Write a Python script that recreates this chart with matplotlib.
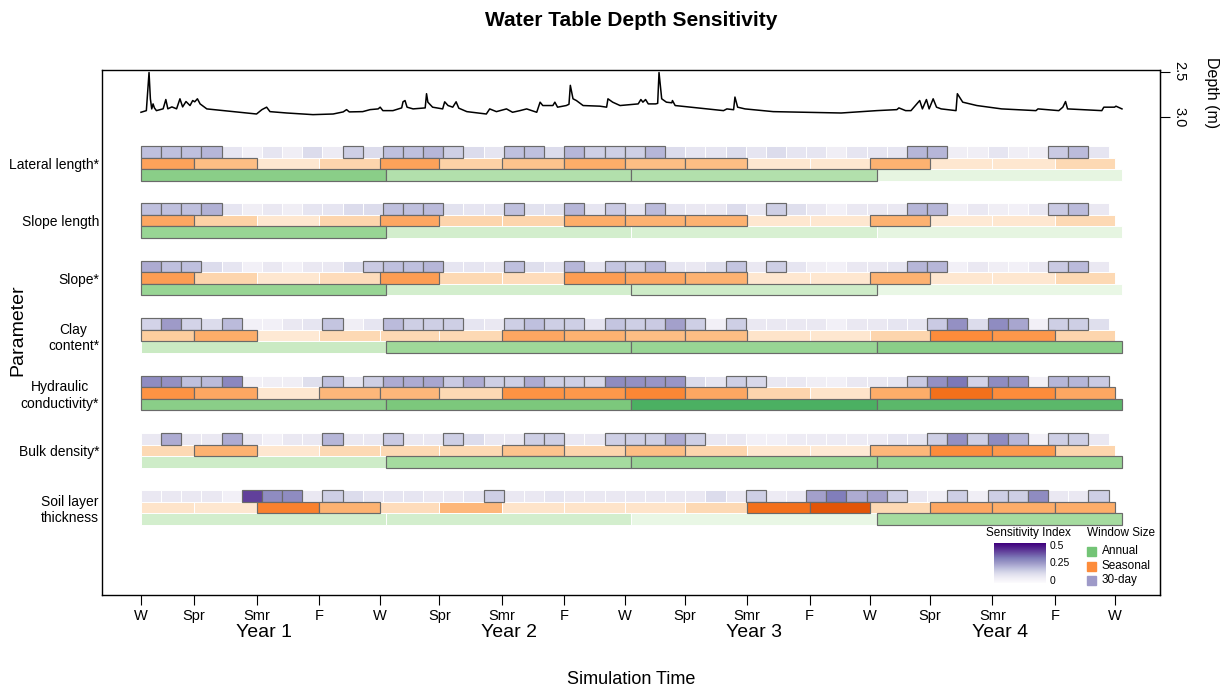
import matplotlib.pyplot as plt
import numpy as np
from matplotlib.colors import Normalize
from matplotlib.patches import Rectangle

plt.rcParams['font.family'] = ['Liberation Sans', 'DejaVu Sans']

# ---- data ----
params = ['Lateral length*', 'Slope length', 'Slope*', 'Clay\ncontent*',
          'Hydraulic\nconductivity*', 'Bulk density*', 'Soil layer\nthickness']

season_days = [0, 79, 172, 265, 355, 444, 537, 630, 720, 809, 902, 995,
               1085, 1174, 1267, 1360, 1450]
season_labels = ['W', 'Spr', 'Smr', 'F'] * 4 + ['W']
year_days = [0, 365, 730, 1095, 1460]
year_labels = ['Year 1', 'Year 2', 'Year 3', 'Year 4']
n_30day = 48

# sensitivity index, 30-day windows (48 per parameter)
si_30day = [
    [.18, .18, .18, .20, .09, .05, .09, .06, .12, .07, .15, .12, .18, .18, .20, .15,
     .12, .09, .18, .18, .12, .20, .15, .15, .15, .20, .12, .09, .09, .12, .09, .12,
     .09, .09, .06, .09, .09, .09, .20, .20, .06, .06, .09, .06, .06, .16, .19, .09],
    [.18, .18, .18, .21, .09, .06, .08, .06, .09, .09, .12, .12, .18, .18, .19, .10,
     .09, .09, .18, .10, .10, .20, .09, .16, .09, .19, .09, .08, .08, .12, .08, .15,
     .11, .08, .05, .08, .08, .08, .20, .20, .05, .08, .06, .05, .08, .16, .19, .08],
    [.22, .18, .18, .12, .09, .05, .08, .05, .08, .08, .12, .16, .18, .18, .20, .09,
     .09, .08, .18, .11, .09, .20, .09, .17, .15, .19, .09, .08, .11, .17, .08, .15,
     .09, .06, .05, .08, .08, .09, .20, .20, .05, .08, .06, .05, .08, .16, .19, .08],
    [.14, .25, .14, .12, .19, .05, .05, .08, .09, .17, .06, .09, .19, .15, .15, .15,
     .09, .08, .15, .18, .15, .15, .09, .17, .15, .16, .24, .15, .05, .15, .08, .08,
     .08, .08, .05, .08, .08, .09, .09, .16, .27, .12, .28, .23, .05, .15, .15, .11],
    [.28, .27, .18, .19, .29, .05, .06, .06, .11, .18, .09, .15, .22, .22, .23, .16,
     .22, .15, .15, .22, .15, .15, .13, .28, .27, .26, .26, .12, .09, .15, .13, .08,
     .08, .06, .05, .08, .08, .09, .16, .27, .32, .14, .28, .26, .05, .20, .20, .16],
    [.08, .22, .08, .08, .22, .08, .05, .08, .08, .20, .08, .08, .16, .08, .08, .15,
     .12, .08, .08, .15, .15, .08, .08, .15, .15, .15, .22, .15, .08, .08, .05, .05,
     .07, .07, .07, .07, .07, .09, .09, .15, .27, .15, .28, .20, .05, .15, .15, .08],
    [.08, .08, .08, .08, .05, .40, .28, .28, .08, .15, .12, .09, .09, .09, .08, .08,
     .09, .15, .08, .08, .09, .08, .08, .08, .08, .08, .08, .08, .12, .08, .15, .07,
     .08, .24, .31, .22, .24, .15, .08, .06, .15, .06, .15, .15, .28, .08, .08, .15],
]
sig_30day = [
    [0, 1, 2, 3, 10, 12, 13, 14, 15, 18, 19, 21, 22, 23, 24, 25, 38, 39, 45, 46],
    [0, 1, 2, 3, 12, 13, 14, 18, 21, 23, 25, 31, 38, 39, 45, 46],
    [0, 1, 2, 11, 12, 13, 14, 18, 21, 23, 24, 25, 29, 31, 38, 39, 45, 46],
    [0, 1, 2, 4, 9, 12, 13, 14, 15, 18, 19, 20, 21, 23, 24, 25, 26, 27, 29,
     39, 40, 42, 43, 45, 46],
    [0, 1, 2, 3, 4, 9, 11, 12, 13, 14, 15, 16, 17, 18, 19, 20, 21, 22, 23, 24,
     25, 26, 29, 30, 38, 39, 40, 41, 42, 43, 45, 46, 47],
    [1, 4, 9, 12, 15, 19, 20, 23, 24, 25, 26, 27, 39, 40, 41, 42, 43, 45, 46],
    [5, 6, 7, 9, 17, 30, 33, 34, 35, 36, 37, 40, 42, 43, 44, 47],
]

# seasonal windows (16 per parameter)
si_seasonal = [
    [.21, .16, .06, .11, .21, .12, .15, .19, .16, .16, .06, .06, .18, .06, .06, .10],
    [.20, .12, .06, .11, .20, .11, .11, .19, .18, .18, .06, .06, .18, .05, .06, .10],
    [.22, .11, .06, .09, .22, .10, .09, .22, .20, .18, .06, .06, .18, .06, .06, .10],
    [.13, .19, .05, .10, .10, .10, .20, .18, .16, .16, .07, .06, .11, .25, .23, .11],
    [.24, .20, .06, .17, .17, .10, .24, .23, .26, .20, .11, .07, .19, .30, .25, .20],
    [.10, .18, .06, .10, .10, .10, .15, .11, .16, .11, .06, .05, .17, .25, .23, .11],
    [.07, .06, .27, .18, .09, .17, .07, .07, .07, .10, .30, .35, .10, .20, .19, .19],
]
sig_seasonal = [
    [0, 1, 4, 6, 7, 8, 9, 12],
    [0, 4, 7, 8, 9, 12],
    [0, 4, 7, 8, 9, 12],
    [0, 1, 6, 7, 8, 9, 13, 14],
    [0, 1, 3, 4, 6, 7, 8, 9, 12, 13, 14, 15],
    [1, 6, 8, 12, 13, 14],
    [2, 3, 10, 11, 13, 14, 15],
]

# annual windows (4 per parameter)
si_annual = [
    [.22, .16, .16, .06],
    [.20, .10, .09, .06],
    [.20, .10, .11, .05],
    [.12, .19, .20, .22],
    [.22, .24, .30, .28],
    [.11, .18, .20, .20],
    [.10, .10, .05, .18],
]
sig_annual = [[0, 1, 2], [0], [0, 2], [1, 2, 3], [0, 1, 2, 3], [1, 2, 3], [3]]

# water table depth (m) vs simulation day
depth_day = [0, 8, 10, 12, 14, 16, 18, 20, 23, 33, 37, 40, 46, 53, 58, 62, 67, 73, 77,
             80, 84, 88, 98, 137, 172, 180, 187, 192, 217, 256, 286, 301, 306, 310,
             330, 341, 353, 356, 360, 375, 388, 390, 393, 396, 405, 418, 423, 425, 427,
             434, 449, 452, 457, 464, 469, 473, 485, 514, 519, 529, 544, 553, 564, 574,
             589, 594, 598, 613, 616, 620, 633, 637, 639, 643, 648, 658, 683, 693, 695,
             702, 713, 740, 744, 747, 751, 755, 766, 769, 771, 775, 782, 790, 791, 795,
             818, 867, 872, 882, 884, 888, 899, 941, 1042, 1074, 1095, 1125, 1128,
             1138, 1146, 1159, 1163, 1169, 1173, 1179, 1184, 1191, 1212, 1213, 1215,
             1223, 1244, 1281, 1332, 1335, 1366, 1372, 1376, 1379, 1430, 1433, 1449,
             1451, 1460]
depth_m = [2.948, 2.93, 2.722, 2.511, 2.80, 2.911, 2.856, 2.90, 2.93, 2.91, 2.808, 2.91,
           2.889, 2.91, 2.80, 2.889, 2.83, 2.874, 2.819, 2.833, 2.80, 2.856, 2.911,
           2.941, 2.967, 2.919, 2.892, 2.941, 2.956, 2.974, 2.967, 2.944, 2.919, 2.944,
           2.941, 2.919, 2.911, 2.892, 2.93, 2.93, 2.90, 2.833, 2.819, 2.892, 2.911,
           2.903, 2.90, 2.744, 2.837, 2.892, 2.911, 2.833, 2.874, 2.892, 2.833, 2.903,
           2.941, 2.967, 2.911, 2.941, 2.911, 2.948, 2.93, 2.911, 2.948, 2.837, 2.874,
           2.874, 2.837, 2.892, 2.874, 2.86, 2.652, 2.80, 2.819, 2.874, 2.881, 2.892,
           2.80, 2.837, 2.874, 2.856, 2.808, 2.837, 2.808, 2.856, 2.856, 2.85, 2.511,
           2.80, 2.837, 2.844, 2.819, 2.874, 2.892, 2.93, 2.911, 2.92, 2.781, 2.892,
           2.911, 2.941, 2.956, 2.941, 2.93, 2.919, 2.90, 2.93, 2.93, 2.819, 2.911,
           2.808, 2.911, 2.80, 2.892, 2.911, 2.93, 2.93, 2.744, 2.837, 2.874, 2.911,
           2.93, 2.911, 2.93, 2.892, 2.83, 2.911, 2.93, 2.892, 2.892, 2.881, 2.911]

# ---- figure ----
W, H = 1228, 692
fig = plt.figure(figsize=(W / 100, H / 100), dpi=100)
ax = fig.add_axes([102 / W, 1 - 595 / H, 1058 / W, 525 / H])
ax.set_xlim(-58, 1516.6)
ax.set_ylim(525, 0)

norm = Normalize(0, 0.5)
starts_30 = np.arange(n_30day) * 30
widths_30 = np.full(n_30day, 30)
starts_s = np.array(season_days[:-1])
widths_s = np.diff(season_days)
starts_a = np.array(year_days[:-1])
widths_a = np.diff(year_days)

rows = [
    (plt.cm.Purples, starts_30, widths_30, si_30day, sig_30day),
    (plt.cm.Oranges, starts_s, widths_s, si_seasonal, sig_seasonal),
    (plt.cm.Greens, starts_a, widths_a, si_annual, sig_annual),
]
row_h = 11.5
group_gap = 57.4
for g in range(len(params)):
    for r, (cmap, st, wd, vals, sigs) in enumerate(rows):
        top = 76 + g * group_gap + r * row_h
        cols = cmap(norm(np.array(vals[g])))
        ax.bar(st, row_h, width=wd, bottom=top, align='edge', color=cols,
               edgecolor='white', linewidth=0.7, zorder=2)
        idx = np.array(sigs[g], dtype=int)
        if len(idx):
            ax.bar(st[idx], row_h, width=wd[idx], bottom=top, align='edge',
                   color=cols[idx], edgecolor='#6a6a6a', linewidth=0.85, zorder=3)

ax.set_yticks([76 + g * group_gap + 1.5 * row_h for g in range(len(params))])
ax.set_yticklabels(params, fontsize=10)
for lab in ax.get_yticklabels():
    lab.set_multialignment('center')
ax.tick_params(axis='y', length=0, pad=2)

ax.set_xticks(season_days)
ax.set_xticklabels(season_labels, fontsize=10.5)
ax.tick_params(axis='x', length=7, width=0.8, pad=11)
for lab in ax.get_xticklabels():
    lab.set_verticalalignment('baseline')
for i, lab in enumerate(year_labels):
    ax.text((year_days[i] + year_days[i + 1]) / 2 + 0.5, -0.0705, lab,
            transform=ax.get_xaxis_transform(), ha='center', va='center', fontsize=14)

for sp in ax.spines.values():
    sp.set_linewidth(1.0)

# depth trace on its own scale at the top
ax2 = ax.twinx()
ax2.plot(depth_day, depth_m, color='black', linewidth=1.1)
ax2.set_ylim(8.2527, 2.4835)
ax2.set_yticks([2.5, 3.0])
ax2.set_yticklabels(['2.5', '3.0'], rotation=-90, va='center', ha='left', fontsize=10.5)
ax2.tick_params(axis='y', length=7, width=0.8, pad=2)
ax2.set_ylabel('Depth (m)', rotation=-90, fontsize=11.5, va='center', ha='center')
ax2.yaxis.set_label_coords(1.049, (595 - 93) / 525)
for sp in ['top', 'bottom', 'left']:
    ax2.spines[sp].set_visible(False)

fig.text(631 / W, 1 - 20 / H, 'Water Table Depth Sensitivity', ha='center', va='center',
         fontsize=15, fontweight='bold')
fig.text(631 / W, 1 - 680 / H, 'Simulation Time', ha='center', va='center', fontsize=13)
fig.text(18 / W, 1 - 330 / H, 'Parameter', ha='center', va='center', fontsize=14,
         rotation=90)

# legend: sensitivity index gradient
fig.text(1028 / W, 1 - 533 / H, 'Sensitivity Index', ha='center', va='center', fontsize=8.5)
cax = fig.add_axes([994 / W, 1 - 583 / H, 52 / W, 40 / H])
grad = np.linspace(0.5, 0, 100)[:, None]
cax.imshow(grad, aspect='auto', cmap='Purples', norm=norm)
cax.set_axis_off()
for txt, yy in [('0.5', 546), ('0.25', 563), ('0', 581)]:
    fig.text(1050 / W, 1 - yy / H, txt, ha='left', va='center', fontsize=7.5)

# legend: window size
fig.text(1121 / W, 1 - 533 / H, 'Window Size', ha='center', va='center', fontsize=8.5)
for (txt, col), yy in zip([('Annual', plt.cm.Greens(0.5)), ('Seasonal', plt.cm.Oranges(0.5)),
                           ('30-day', plt.cm.Purples(0.5))], [551, 566, 580]):
    fig.add_artist(Rectangle(((1087) / W, 1 - (yy + 4.5) / H), 9 / W, 9 / H,
                             transform=fig.transFigure, color=col))
    fig.text(1102 / W, 1 - yy / H, txt, ha='left', va='center', fontsize=8.5)

fig.savefig('out.png', dpi=100)
